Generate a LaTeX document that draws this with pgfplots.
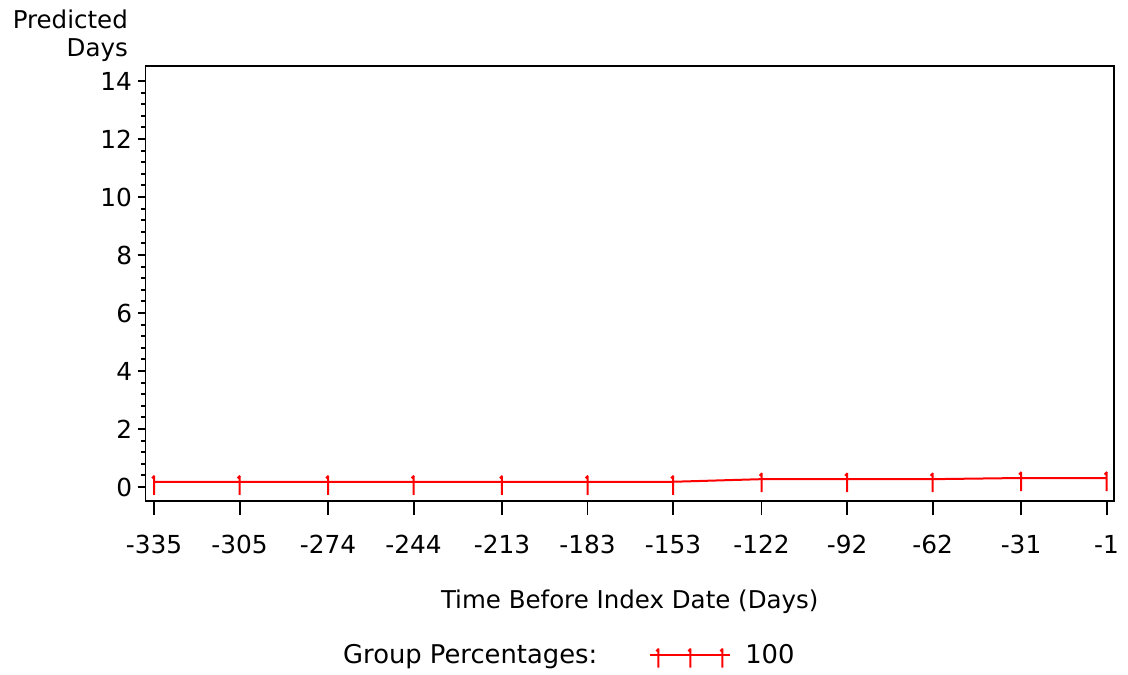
\documentclass[border=0pt]{standalone}
\usepackage{pgfplots}
\pgfplotsset{compat=1.18}
\usepackage{fontspec}
\setmainfont{DejaVu Sans}

% vertical tack with a small flag at the top
\pgfdeclareplotmark{tack}{%
  \pgfpathmoveto{\pgfqpoint{0pt}{-13pt}}%
  \pgfpathlineto{\pgfqpoint{0pt}{6pt}}%
  \pgfpathmoveto{\pgfqpoint{0.5pt}{6pt}}%
  \pgfpathlineto{\pgfqpoint{-2pt}{3.5pt}}%
  \pgfusepathqstroke}

\newcommand\lblfont{\fontsize{24.5}{29}\selectfont}
\newcommand\legfont{\fontsize{25.8}{29}\selectfont}
\newcommand\tickfont{\fontsize{24.8}{28}\selectfont}

\begin{document}
\begin{tikzpicture}[x=1pt,y=1pt]
\useasboundingbox (0,0) rectangle (1128,675);
\begin{axis}[
  at={(145.5pt,174pt)}, anchor=south west,
  scale only axis, width=968.5pt, height=435pt,
  xmin=-338, xmax=1.6, ymin=-0.483, ymax=14.517,
  axis line style={line width=1.9pt},
  xtick pos=bottom, ytick pos=left,
  xtick={-335,-305,-274,-244,-213,-183,-153,-122,-92,-62,-31,-1},
  xticklabels={-335,-305,-274,-244,-213,-183,-153,-122,-92,-62,-31,-1},
  ytick={0,2,4,6,8,10,12,14},
  yticklabels={0,2,4,6,8,10,12,14},
  minor y tick num=4,
  tick align=outside,
  xtick style={line width=1.9pt, black, /pgfplots/major tick length=14pt},
  ytick style={line width=1.9pt, black, /pgfplots/major tick length=8pt, /pgfplots/minor tick length=4.5pt},
  xticklabel style={font=\tickfont, inner sep=0pt, anchor=north, yshift=-30pt},
  yticklabel style={font=\tickfont, inner sep=0pt, anchor=east, xshift=-9pt},
  xlabel={Time Before Index Date (Days)},
  xlabel style={font=\lblfont, at={(axis description cs:0.5,-0.246)}, anchor=base, inner sep=0pt},
  legend style={at={(axis description cs:0.52,-0.354)}, anchor=west, draw=none, fill=none,
    inner sep=0pt, font=\legfont, column sep=0pt},
  legend cell align=left,
  legend image code/.code={
    \draw[red, line width=2pt] (0pt,0pt) -- (80pt,0pt);
    \draw[red, line width=2pt, mark=tack] plot coordinates {(8pt,0pt) (40pt,0pt) (72pt,0pt)};
  },
]
\addplot[red, line width=2pt, mark=tack, mark options={solid}] coordinates {
  (-335,0.18) (-305,0.18) (-274,0.18) (-244,0.18) (-213,0.18) (-183,0.18)
  (-153,0.18) (-122,0.27) (-92,0.27) (-62,0.27) (-31,0.31) (-1,0.31)
};
\addlegendentry{\hspace{12pt}100}
\end{axis}
\node[anchor=base east, font=\lblfont, inner sep=0pt] at (128,646) {Predicted};
\node[anchor=base east, font=\lblfont, inner sep=0pt] at (128,618) {Days};
\node[anchor=base west, font=\legfont, inner sep=0pt] at (343,11) {Group Percentages:};
\end{tikzpicture}
\end{document}
